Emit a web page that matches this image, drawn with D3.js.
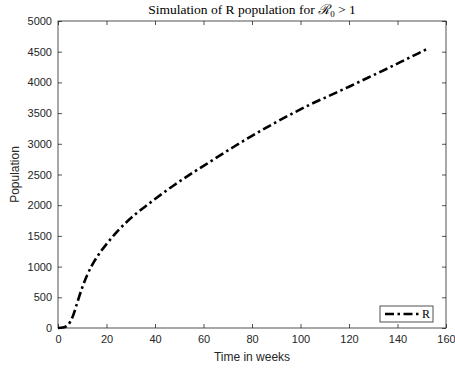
<!DOCTYPE html>
<html>
<head>
<meta charset="utf-8">
<script src="https://cdn.jsdelivr.net/npm/d3@7"></script>
<style>
  body { margin: 0; background: #fff; }
  svg { display: block; }
  .tick text { font-family: "Liberation Sans", Arial, sans-serif; font-size: 11px; fill: #262626; }
  .tick line { stroke: #262626; }
</style>
</head>
<body>
<svg id="chart" width="455" height="370"></svg>
<script>
// time (weeks) and R population
var weeks = [0, 2, 4, 6, 8, 10, 12, 14, 16, 18, 20, 24, 28, 32, 36, 40, 48, 56, 64, 72, 80, 88, 96, 104, 112, 120, 128, 136, 144, 152];
var rPop = [0, 8, 45, 180, 420, 660, 860, 1020, 1150, 1265, 1365, 1555, 1715, 1855, 1980, 2100, 2330, 2540, 2740, 2940, 3130, 3310, 3480, 3640, 3785, 3930, 4080, 4230, 4385, 4540];
var xTicks = [0, 20, 40, 60, 80, 100, 120, 140, 160];
var yTicks = [0, 500, 1000, 1500, 2000, 2500, 3000, 3500, 4000, 4500, 5000];

var svg = d3.select("#chart");
// plot box edges (note: "top" clashes with window.top, so prefix them)
var boxLeft = 58, boxRight = 446, boxTop = 21, boxBottom = 328;

var x = d3.scaleLinear().domain([0, 160]).range([boxLeft, boxRight]);
var y = d3.scaleLinear().domain([0, 5000]).range([boxBottom, boxTop]);

// axes, ticks pointing inward like matlab
function styleAxis(g) {
	g.select(".domain").remove();
	g.selectAll(".tick line").attr("stroke-width", 0.8);
}

svg.append("g").attr("transform", "translate(0," + boxBottom + ")")
	.call(d3.axisBottom(x).tickValues(xTicks).tickSize(-4).tickPadding(7))
	.call(styleAxis);
svg.append("g").attr("transform", "translate(0," + boxTop + ")")
	.call(d3.axisTop(x).tickValues(xTicks).tickSize(-4).tickFormat(""))
	.call(styleAxis);
svg.append("g").attr("transform", "translate(" + boxLeft + ",0)")
	.call(d3.axisLeft(y).tickValues(yTicks).tickSize(-4).tickPadding(6).tickFormat(d3.format("d")))
	.call(styleAxis);
svg.append("g").attr("transform", "translate(" + boxRight + ",0)")
	.call(d3.axisRight(y).tickValues(yTicks).tickSize(-4).tickFormat(""))
	.call(styleAxis);

// box
svg.append("rect")
	.attr("x", boxLeft).attr("y", boxTop)
	.attr("width", boxRight - boxLeft).attr("height", boxBottom - boxTop)
	.attr("fill", "none").attr("stroke", "#262626").attr("stroke-width", 0.8);

// curve
var line = d3.line()
	.x(function(d, i){ return x(weeks[i]); })
	.y(function(d){ return y(d); })
	.curve(d3.curveMonotoneX);

svg.append("path")
	.datum(rPop)
	.attr("d", line)
	.attr("fill", "none")
	.attr("stroke", "#000")
	.attr("stroke-width", 2.6)
	.attr("stroke-dasharray", "9,3.5,2.5,3.5");

// title
var title = svg.append("text")
	.attr("x", (boxLeft + boxRight) / 2).attr("y", 14)
	.attr("text-anchor", "middle")
	.attr("font-family", "'Liberation Serif', 'DejaVu Serif', serif")
	.attr("font-size", 13.5)
	.attr("fill", "#000");
title.append("tspan").text("Simulation of R population for ");
title.append("tspan").attr("font-style", "italic").text("\u211B");
title.append("tspan").attr("font-size", 9).attr("dy", 3).text("0");
title.append("tspan").attr("dy", -3).text(" > 1");

// axis labels
svg.append("text")
	.attr("x", (boxLeft + boxRight) / 2).attr("y", 361)
	.attr("text-anchor", "middle")
	.attr("font-family", "'Liberation Sans', Arial, sans-serif")
	.attr("font-size", 12).attr("fill", "#262626")
	.text("Time in weeks");

svg.append("text")
	.attr("transform", "translate(19," + ((boxTop + boxBottom) / 2) + ") rotate(-90)")
	.attr("text-anchor", "middle")
	.attr("font-family", "'Liberation Sans', Arial, sans-serif")
	.attr("font-size", 12).attr("fill", "#262626")
	.text("Population");

// legend
var legend = svg.append("g").attr("transform", "translate(380,306)");
legend.append("rect")
	.attr("width", 53).attr("height", 16)
	.attr("fill", "#fff").attr("stroke", "#262626").attr("stroke-width", 0.8);
legend.append("line")
	.attr("x1", 5).attr("x2", 39).attr("y1", 8).attr("y2", 8)
	.attr("stroke", "#000").attr("stroke-width", 2.6)
	.attr("stroke-dasharray", "9,3.5,2.5,3.5");
legend.append("text")
	.attr("x", 42).attr("y", 12)
	.attr("font-family", "'Liberation Serif', 'DejaVu Serif', serif")
	.attr("font-size", 12).attr("fill", "#000")
	.text("R");
</script>
</body>
</html>
